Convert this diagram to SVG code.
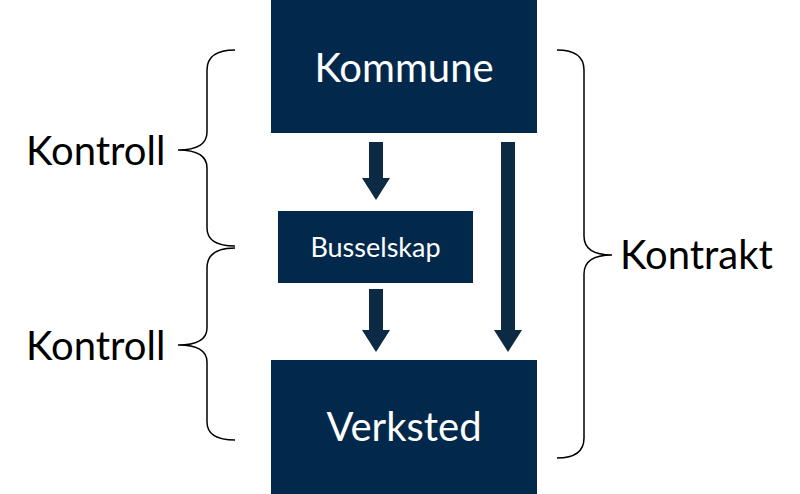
<svg xmlns="http://www.w3.org/2000/svg" width="800" height="494" viewBox="0 0 800 494">
<style>
.box{fill:#02294c}
.arr{fill:#0d2a44}
.br{fill:none;stroke:#000;stroke-width:1.5}
.t{font-family:Lato,"Open Sans",sans-serif;fill:#000}
.w{font-family:Lato,"Open Sans",sans-serif;fill:#fff;text-anchor:middle}
</style>
<rect width="800" height="494" fill="#fff"/>
<g id="kommune"><rect class="box" x="271" y="0" width="266" height="133"/><text class="w" x="404" y="82" font-size="40">Kommune</text></g>
<g id="busselskap"><rect class="box" x="278" y="211" width="195" height="72"/><text class="w" x="375.5" y="257" font-size="27">Busselskap</text></g>
<g id="verksted"><rect class="box" x="271" y="360" width="266" height="134"/><text class="w" x="404" y="441" font-size="40">Verksted</text></g>
<g id="connectors">
<polygon class="arr" points="369,142 383,142 383,178 390,178 376,200 362,178 369,178"/>
<polygon class="arr" points="369,289 383,289 383,330 390,330 376,352 362,330 369,330"/>
<polygon class="arr" points="501,142 515,142 515,330 522,330 508,352 494,330 501,330"/>
</g>
<g id="braces">
<path class="br" d="M235,50 Q207,50 207,70 L207,132 Q207,150 178,150 Q207,150 207,168 L207,228 Q207,246 235,246"/>
<path class="br" d="M235,248 Q207,248 207,268 L207,328 Q207,345 178,345 Q207,345 207,362 L207,422 Q207,440 235,440"/>
<path class="br" d="M557,50 Q584,50 584,70 L584,236 Q584,255 612,255 Q584,255 584,274 L584,438 Q584,458 557,458"/>
</g>
<text class="t" x="26" y="165" font-size="40">Kontroll</text>
<text class="t" x="26" y="360" font-size="40">Kontroll</text>
<text class="t" x="620" y="269" font-size="40">Kontrakt</text>
</svg>
